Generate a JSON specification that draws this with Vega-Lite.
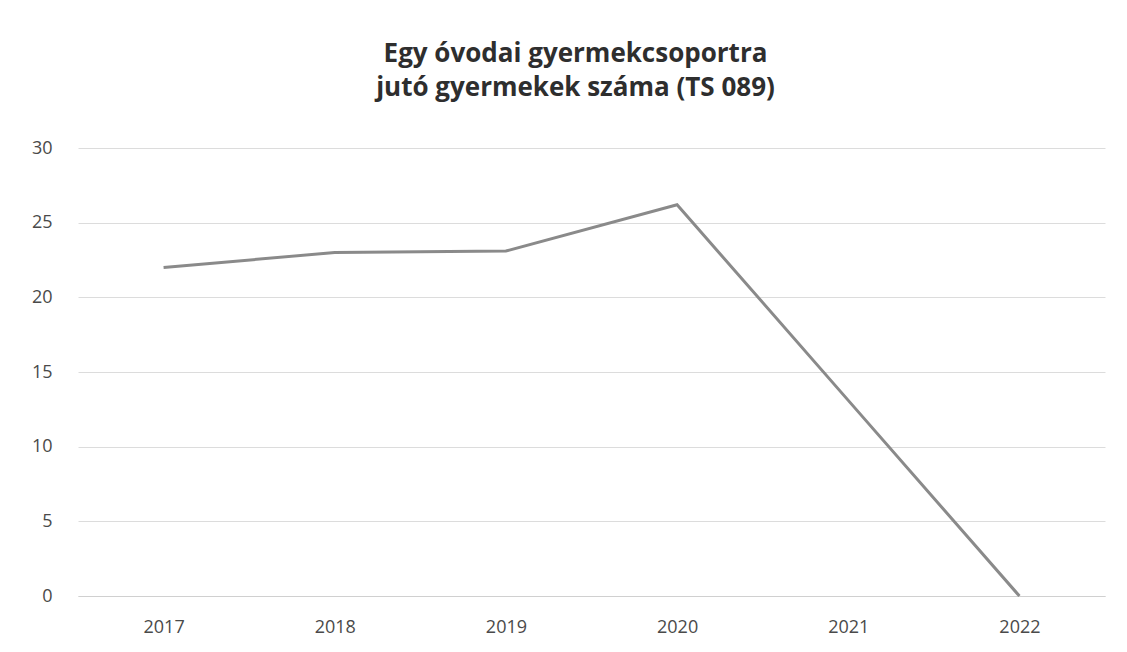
{
  "$schema": "https://vega.github.io/schema/vega-lite/v6.json",
  "autosize": {"type": "none"},
  "padding": {"left": 78, "top": 148, "right": 22, "bottom": 56},
  "width": 1027,
  "height": 448,
  "background": "white",
  "title": {
    "text": ["Egy óvodai gyermekcsoportra", "jutó gyermekek száma (TS 089)"],
    "font": "Open Sans",
    "fontSize": 26,
    "fontWeight": "bold",
    "color": "#2e2e2e",
    "lineHeight": 34,
    "anchor": "middle",
    "dx": -16,
    "offset": 38
  },
  "data": {
    "values": [
      {"ev": "2017", "ertek": 22.0},
      {"ev": "2018", "ertek": 23.0},
      {"ev": "2019", "ertek": 23.1},
      {"ev": "2020", "ertek": 26.2},
      {"ev": "2021", "ertek": 13.1},
      {"ev": "2022", "ertek": 0}
    ]
  },
  "mark": {"type": "line", "color": "#8a8a8a", "strokeWidth": 3},
  "encoding": {
    "x": {
      "field": "ev",
      "type": "ordinal",
      "scale": {"type": "point", "padding": 0.5},
      "axis": {
        "title": null,
        "labelAngle": 0,
        "ticks": false,
        "domain": true,
        "domainColor": "#d0d0d0",
        "labelFont": "Open Sans",
        "labelFontSize": 18,
        "labelColor": "#4a4a4a",
        "labelPadding": 22
      }
    },
    "y": {
      "field": "ertek",
      "type": "quantitative",
      "scale": {"domain": [0, 30]},
      "axis": {
        "title": null,
        "values": [0, 5, 10, 15, 20, 25, 30],
        "ticks": false,
        "domain": false,
        "gridColor": "#dcdcdc",
        "labelFont": "Open Sans",
        "labelFontSize": 18,
        "labelColor": "#4a4a4a",
        "labelPadding": 26
      }
    }
  },
  "config": {"view": {"stroke": null}}
}
